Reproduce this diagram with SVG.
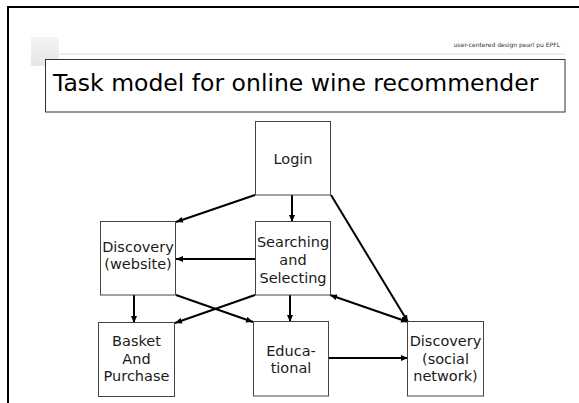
<svg xmlns="http://www.w3.org/2000/svg" width="579" height="403" viewBox="0 0 579 403">
<style>
.node rect{fill:#fff;stroke:#444;stroke-width:1}
.node text{font-family:"DejaVu Sans",Verdana,sans-serif;font-size:14.5px;fill:#1a1a1a;text-anchor:middle}
.edge{stroke:#000;stroke-width:2;fill:none;marker-end:url(#ah)}
</style>
<defs>
<marker id="ah" markerUnits="userSpaceOnUse" markerWidth="8" markerHeight="6" refX="7" refY="3" orient="auto-start-reverse">
<path d="M0,0 L7,3 L0,6 z" fill="#000"/>
</marker>
<linearGradient id="sq" x1="0" y1="0" x2="0" y2="1">
<stop offset="0" stop-color="#f4f4f4"/>
<stop offset="1" stop-color="#e6e6e6"/>
</linearGradient>
</defs>
<rect width="579" height="403" fill="#fff"/>
<g id="frame">
<line x1="7" y1="7" x2="579" y2="7" stroke="#000" stroke-width="2"/>
<line x1="8" y1="6" x2="8" y2="403" stroke="#000" stroke-width="2"/>
<rect x="31" y="37" width="28" height="29" fill="url(#sq)"/>
<line x1="59" y1="54" x2="565" y2="54" stroke="#ececec" stroke-width="2"/>
<text x="560" y="47" font-family="DejaVu Sans,Verdana,sans-serif" font-size="6" text-anchor="end" fill="#333">user-centered design pearl pu EPFL</text>
</g>
<g id="title">
<rect x="45.5" y="59.5" width="519.5" height="52.5" fill="#fff" stroke="#333" stroke-width="1"/>
<text x="53" y="91" font-family="DejaVu Sans,Verdana,sans-serif" font-size="23.5" fill="#000">Task model for online wine recommender</text>
</g>
<g id="connectors">
<path class="edge" d="M255,195 L176,222"/>
<path class="edge" d="M292,195 L292,222"/>
<path class="edge" d="M331,195 L408,322"/>
<path class="edge" d="M255,259 L176,259"/>
<path class="edge" d="M134,295 L134,323"/>
<path class="edge" d="M176,295 L253,322"/>
<path class="edge" d="M255,295 L175,323"/>
<path class="edge" d="M290,295 L290,322"/>
<path class="edge" d="M330,295 L408,322" marker-start="url(#ah)"/>
<path class="edge" d="M329,358 L408,358"/>
</g>
<g id="login" class="node">
<rect x="255.5" y="121.5" width="75" height="73.5"/>
<text x="293" y="164">Login</text>
</g>
<g id="discovery-website" class="node">
<rect x="100.5" y="221.5" width="75" height="73.5"/>
<text x="138" y="252">Discovery</text>
<text x="138" y="269">(website)</text>
</g>
<g id="searching" class="node">
<rect x="255.5" y="221.5" width="75" height="73.5"/>
<text x="293" y="247">Searching</text>
<text x="293" y="265">and</text>
<text x="293" y="283">Selecting</text>
</g>
<g id="basket" class="node">
<rect x="98.5" y="322.5" width="76" height="74"/>
<text x="136.5" y="346">Basket</text>
<text x="136.5" y="363.5">And</text>
<text x="136.5" y="381">Purchase</text>
</g>
<g id="educational" class="node">
<rect x="253.5" y="321.5" width="75" height="74.5"/>
<text x="291" y="355.5">Educa-</text>
<text x="291" y="373">tional</text>
</g>
<g id="discovery-social" class="node">
<rect x="407.5" y="321.5" width="76" height="74.5"/>
<text x="445.5" y="346">Discovery</text>
<text x="445.5" y="363.5">(social</text>
<text x="445.5" y="381">network)</text>
</g>
</svg>
